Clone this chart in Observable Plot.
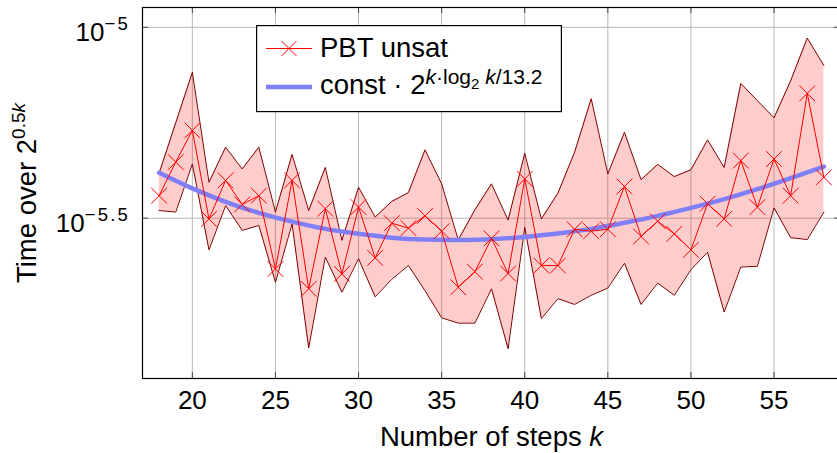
<!DOCTYPE html>
<html><head><meta charset="utf-8">
<script src="https://cdn.jsdelivr.net/npm/d3@7"></script>
<script src="https://cdn.jsdelivr.net/npm/@observablehq/plot@0.6"></script>
<style>
html,body{margin:0;padding:0;overflow:hidden;background:#fff;}
#wrap{position:relative;width:841px;height:453px;overflow:hidden;}
#legend{position:absolute;left:256px;top:25px;}
</style></head><body><div id="wrap"></div>
<script>
// ---- data (log10 exponents) ----
const steps = [18,19,20,21,22,23,24,25,26,27,28,29,30,31,32,33,34,35,36,37,38,39,40,41,42,43,44,45,46,47,48,49,50,51,52,53,54,55,56,57,58];
const meanExp = [-5.441,-5.353,-5.270,-5.502,-5.401,-5.464,-5.441,-5.633,-5.401,-5.685,-5.475,-5.646,-5.471,-5.604,-5.513,-5.526,-5.494,-5.534,-5.681,-5.640,-5.553,-5.645,-5.397,-5.624,-5.624,-5.529,-5.534,-5.529,-5.417,-5.548,-5.508,-5.541,-5.583,-5.462,-5.502,-5.349,-5.471,-5.345,-5.441,-5.173,-5.393];
const upperExp = [-5.382,-5.250,-5.118,-5.406,-5.314,-5.371,-5.314,-5.484,-5.333,-5.480,-5.367,-5.558,-5.419,-5.497,-5.456,-5.433,-5.321,-5.410,-5.557,-5.478,-5.410,-5.505,-5.330,-5.502,-5.434,-5.327,-5.187,-5.384,-5.275,-5.399,-5.359,-5.391,-5.373,-5.295,-5.367,-5.147,-5.192,-5.237,-5.140,-5.028,-5.100];
const lowerExp = [-5.480,-5.484,-5.358,-5.583,-5.467,-5.532,-5.519,-5.668,-5.515,-5.840,-5.602,-5.694,-5.606,-5.706,-5.660,-5.624,-5.690,-5.761,-5.775,-5.775,-5.685,-5.842,-5.524,-5.763,-5.711,-5.726,-5.702,-5.683,-5.618,-5.726,-5.670,-5.702,-5.635,-5.589,-5.746,-5.628,-5.626,-5.473,-5.551,-5.556,-5.484];
const fitSteps = [18,20,22,24,26,28,30,32,34,36,38,40,42,44,46,48,50,52,54,56,58];
const fitExp = [-5.381,-5.422,-5.457,-5.486,-5.509,-5.528,-5.541,-5.551,-5.556,-5.557,-5.555,-5.549,-5.540,-5.528,-5.512,-5.494,-5.473,-5.450,-5.424,-5.395,-5.365];
const xTickValues = [20,25,30,35,40,45,50,55];
const yTickExps = [-5, -5.5];
const yTickLabels = [["10","−5"],["10","−5.5"]];
const xLabel = [{t:"Number of steps "},{t:"k",it:true}];
const yLabel = [{t:"Time over 2"},{t:"0.5",sup:11,fs:19},{t:"k",sup:11,fs:19,it:true}];
const seriesName = "PBT unsat";
const fitName = [{t:"const · 2"},{t:"k",sup:10,fs:21,it:true},{t:"·log",sup:10,fs:21},{t:"2",sup:5,fs:15},{t:" k",sup:10,fs:21,it:true},{t:"/13.2",sup:10,fs:21}];

const rows = steps.map((k,i)=>({k, m:10**meanExp[i], hi:10**upperExp[i], lo:10**lowerExp[i]}));
const fit = fitSteps.map((k,i)=>({k, v:10**fitExp[i]}));

const W=841, H=453, mL=142, mR=1, mT=7, mB=75;
const iw=W-mL-mR, ih=H-mT-mB;
const font="'Liberation Sans', Arial, sans-serif";

const plot = Plot.plot({
  width:W, height:H, marginLeft:mL, marginRight:mR, marginTop:mT, marginBottom:mB,
  style:{fontFamily:font, background:"#fff", maxWidth:"none", overflow:"visible"},
  x:{domain:[17,59], axis:null},
  y:{type:"log", domain:[10**-5.92, 10**-4.948], axis:null},
  marks:[
    Plot.ruleX(xTickValues,{x:d=>d, stroke:"#b8b8b8", strokeWidth:1}),
    Plot.ruleY(yTickExps,{y:d=>10**d, stroke:"#b8b8b8", strokeWidth:1}),
    Plot.areaY(rows,{x:"k", y1:"lo", y2:"hi", fill:"red", fillOpacity:0.2}),
    Plot.line(rows,{x:"k", y:"hi", stroke:"#800000", strokeWidth:1}),
    Plot.line(rows,{x:"k", y:"lo", stroke:"#800000", strokeWidth:1}),
    Plot.line(fit,{x:"k", y:"v", stroke:"#7f7ff7", strokeWidth:4.5, curve:"natural"}),
    Plot.line(rows,{x:"k", y:"m", stroke:"red", strokeWidth:1}),
    Plot.dot(rows,{x:"k", y:"m", symbol:"times", r:7.2, stroke:"red", strokeWidth:1}),
    Plot.ruleX(xTickValues,{x:d=>d, insetTop:ih-6, stroke:"#444", strokeWidth:1}),
    Plot.ruleX(xTickValues,{x:d=>d, insetBottom:ih-6, stroke:"#444", strokeWidth:1}),
    Plot.ruleY(yTickExps,{y:d=>10**d, insetRight:iw-6, stroke:"#444", strokeWidth:1}),
    Plot.ruleY(yTickExps,{y:d=>10**d, insetLeft:iw-6, stroke:"#444", strokeWidth:1}),
    Plot.frame({stroke:"#000", strokeWidth:1.2}),
    Plot.text(xTickValues,{x:d=>d, text:d=>String(d), frameAnchor:"bottom", lineAnchor:"bottom", dy:30, fontSize:26, fill:"#000"}),
    Plot.text(yTickExps,{y:d=>10**d, text:(d,i)=>yTickLabels[i].join("^"), frameAnchor:"left", textAnchor:"end", lineAnchor:"bottom", dx:-12.5, dy:14, fontSize:26, fill:"#000"}),
    Plot.text(["@xlabel"],{text:d=>d, frameAnchor:"bottom", textAnchor:"middle", lineAnchor:"bottom", dy:67, fontSize:27.5, fill:"#000"}),
    Plot.text(["@ylabel"],{text:d=>d, frameAnchor:"left", textAnchor:"middle", rotate:-90, dx:-107, lineAnchor:"bottom", fontSize:27.5, fill:"#000"})
  ]
});
document.getElementById("wrap").appendChild(plot);

const NS="http://www.w3.org/2000/svg";
function rich(el, parts){
  el.textContent="";
  let shift=0;
  for(const p of parts){
    const ts=document.createElementNS(NS,"tspan");
    const target = p.sup ? -p.sup : 0;
    if(target!==shift){ ts.setAttribute("dy", target-shift); shift=target; }
    if(p.fs) ts.setAttribute("font-size", p.fs);
    if(p.it) ts.setAttribute("font-style","italic");
    if(p.ls) ts.setAttribute("letter-spacing", p.ls);
    ts.textContent=p.t;
    el.appendChild(ts);
  }
}
plot.querySelectorAll("text").forEach(el=>{
  const s=el.textContent;
  if(s.includes("^")){
    const [b,e]=s.split("^");
    rich(el,[{t:b},{t:e,sup:11.5,fs:18.5,ls:2.2}]);
  } else if(s==="@xlabel") rich(el,xLabel);
  else if(s==="@ylabel") rich(el,yLabel);
});

// legend
const lg=d3.select("#wrap").append("svg").attr("id","legend").attr("width",306).attr("height",88)
  .style("font-family",font);
lg.append("rect").attr("x",0.6).attr("y",0.6).attr("width",304.8).attr("height",86).attr("fill","#fff").attr("stroke","#000").attr("stroke-width",1.2);
lg.append("line").attr("x1",10).attr("x2",56).attr("y1",23.5).attr("y2",23.5).attr("stroke","red").attr("stroke-width",1);
lg.append("path").attr("d","M25.5,16 L40.5,31 M25.5,31 L40.5,16").attr("stroke","red").attr("stroke-width",1);
lg.append("text").attr("x",64).attr("y",32).attr("font-size",27.5).text(seriesName);
lg.append("line").attr("x1",10).attr("x2",56).attr("y1",62).attr("y2",62).attr("stroke","#7f7ff7").attr("stroke-width",4.5);
const t2=lg.append("text").attr("x",64).attr("y",68.5).attr("font-size",27.5).node();
rich(t2,fitName);
</script></body></html>
